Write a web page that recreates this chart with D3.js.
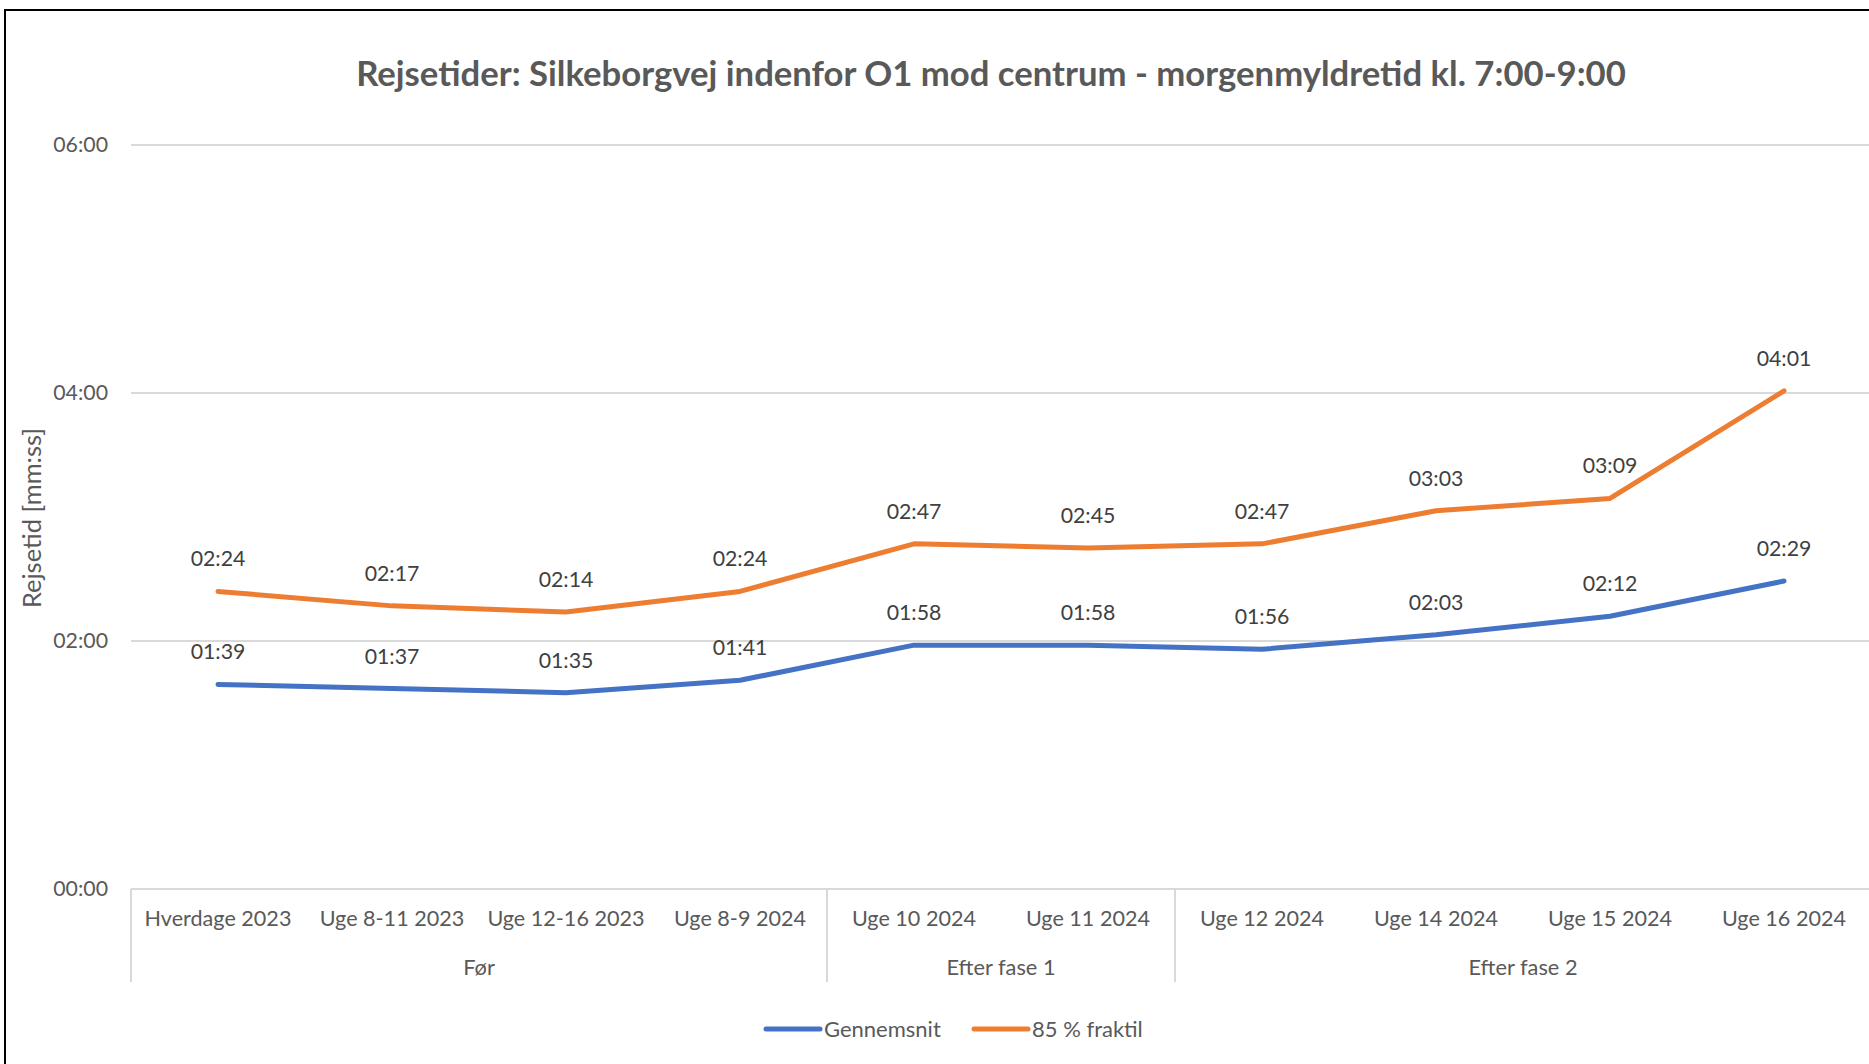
<!DOCTYPE html>
<html>
<head>
<meta charset="utf-8">
<script src="https://cdn.jsdelivr.net/npm/d3@7"></script>
<style>
  html, body { margin: 0; padding: 0; background: #fff; overflow: hidden; }
  svg { display: block; font-family: Lato, "Open Sans", sans-serif; }
</style>
</head>
<body>
<svg id="chart" width="1869" height="1064"></svg>
<script>
// categories on the x axis and the groups they fall into
const categories = ["Hverdage 2023", "Uge 8-11 2023", "Uge 12-16 2023", "Uge 8-9 2024",
  "Uge 10 2024", "Uge 11 2024", "Uge 12 2024", "Uge 14 2024", "Uge 15 2024", "Uge 16 2024"];
const groupNames = ["Før", "Efter fase 1", "Efter fase 2"];
const groupSizes = [4, 2, 4];

// travel times mm:ss
const gennemsnit = ["01:39", "01:37", "01:35", "01:41", "01:58", "01:58", "01:56", "02:03", "02:12", "02:29"];
const fraktil85 = ["02:24", "02:17", "02:14", "02:24", "02:47", "02:45", "02:47", "03:03", "03:09", "04:01"];

const yTicks = [0, 120, 240, 360];

const toSec = s => { const p = s.split(":"); return +p[0] * 60 + +p[1]; };
const fmt = v => d3.format("02")(Math.floor(v / 60)) + ":" + d3.format("02")(v % 60);

const series = [
  {name: "Gennemsnit", color: "#4472C4", values: gennemsnit},
  {name: "85 % fraktil", color: "#ED7D31", values: fraktil85}
];

const svg = d3.select("#chart");

// frame of the screenshot
svg.append("path")
  .attr("d", "M5,1070 V10 H1875")
  .attr("fill", "none")
  .attr("stroke", "#000")
  .attr("stroke-width", 2);

// title
svg.append("text")
  .attr("x", 991).attr("y", 72)
  .attr("text-anchor", "middle")
  .attr("dominant-baseline", "central")
  .attr("font-size", 34.7)
  .attr("font-weight", "bold")
  .attr("fill", "#595959")
  .text("Rejsetider: Silkeborgvej indenfor O1 mod centrum - morgenmyldretid kl. 7:00-9:00");

const x = d3.scaleBand().domain(categories).range([131, 1871]);
const y = d3.scaleLinear().domain([0, 360]).range([889, 145]);

// gridlines
svg.append("g").selectAll("line")
  .data(yTicks.filter(d => d > 0)).join("line")
  .attr("x1", 131).attr("x2", 1871)
  .attr("y1", d => y(d)).attr("y2", d => y(d))
  .attr("stroke", "#d9d9d9").attr("stroke-width", 2);

// y axis labels
const yAxis = svg.append("g")
  .attr("transform", "translate(108,0)")
  .call(d3.axisLeft(y).tickValues(yTicks).tickFormat(fmt).tickSize(0).tickPadding(0));
yAxis.select(".domain").remove();
yAxis.selectAll("text")
  .attr("font-family", "Lato, 'Open Sans', sans-serif")
  .attr("font-size", 21.3)
  .attr("fill", "#595959");

svg.append("text")
  .attr("transform", "translate(31,518) rotate(-90)")
  .attr("text-anchor", "middle")
  .attr("dominant-baseline", "central")
  .attr("font-size", 25.5)
  .attr("fill", "#595959")
  .text("Rejsetid [mm:ss]");

// x axis with category labels
const xAxis = svg.append("g")
  .attr("transform", "translate(0," + y(0) + ")")
  .call(d3.axisBottom(x).tickSize(0).tickPadding(22));
xAxis.select(".domain").attr("stroke", "#d9d9d9").attr("stroke-width", 2).attr("d", "M131,0H1871");
xAxis.selectAll("text")
  .attr("font-family", "Lato, 'Open Sans', sans-serif")
  .attr("font-size", 21.6)
  .attr("fill", "#595959");

// group separators and group labels
const groups = [];
let start = 0;
groupNames.forEach((g, i) => {
  groups.push({name: g, first: categories[start], last: categories[start + groupSizes[i] - 1]});
  start += groupSizes[i];
});
const bounds = [x(categories[0])].concat(groups.map(g => x(g.last) + x.bandwidth()));
svg.append("g").selectAll("line")
  .data(bounds).join("line")
  .attr("x1", d => d).attr("x2", d => d)
  .attr("y1", y(0)).attr("y2", 982)
  .attr("stroke", "#d9d9d9").attr("stroke-width", 2);
svg.append("g").selectAll("text")
  .data(groups).join("text")
  .attr("x", d => (x(d.first) + x(d.last) + x.bandwidth()) / 2)
  .attr("y", 966)
  .attr("text-anchor", "middle")
  .attr("dominant-baseline", "central")
  .attr("font-size", 21.8)
  .attr("fill", "#595959")
  .text(d => d.name);

// lines
const line = d3.line()
  .x((d, i) => x(categories[i]) + x.bandwidth() / 2)
  .y(d => y(toSec(d)));

series.forEach(s => {
  svg.append("path")
    .datum(s.values)
    .attr("d", line)
    .attr("fill", "none")
    .attr("stroke", s.color)
    .attr("stroke-width", 5)
    .attr("stroke-linecap", "round")
    .attr("stroke-linejoin", "round");

  svg.append("g").selectAll("text")
    .data(s.values).join("text")
    .attr("x", (d, i) => x(categories[i]) + x.bandwidth() / 2)
    .attr("y", d => y(toSec(d)) - 33)
    .attr("text-anchor", "middle")
    .attr("dominant-baseline", "central")
    .attr("font-size", 21.3)
    .attr("fill", "#404040")
    .text(d => d);
});

// legend
const legend = svg.append("g");
const legendX = [766, 974];
series.forEach((s, i) => {
  legend.append("line")
    .attr("x1", legendX[i]).attr("x2", legendX[i] + 54)
    .attr("y1", 1029).attr("y2", 1029)
    .attr("stroke", s.color).attr("stroke-width", 5).attr("stroke-linecap", "round");
  legend.append("text")
    .attr("x", legendX[i] + 58).attr("y", 1028)
    .attr("dominant-baseline", "central")
    .attr("font-size", 22)
    .attr("fill", "#595959")
    .text(s.name);
});
</script>
</body>
</html>
